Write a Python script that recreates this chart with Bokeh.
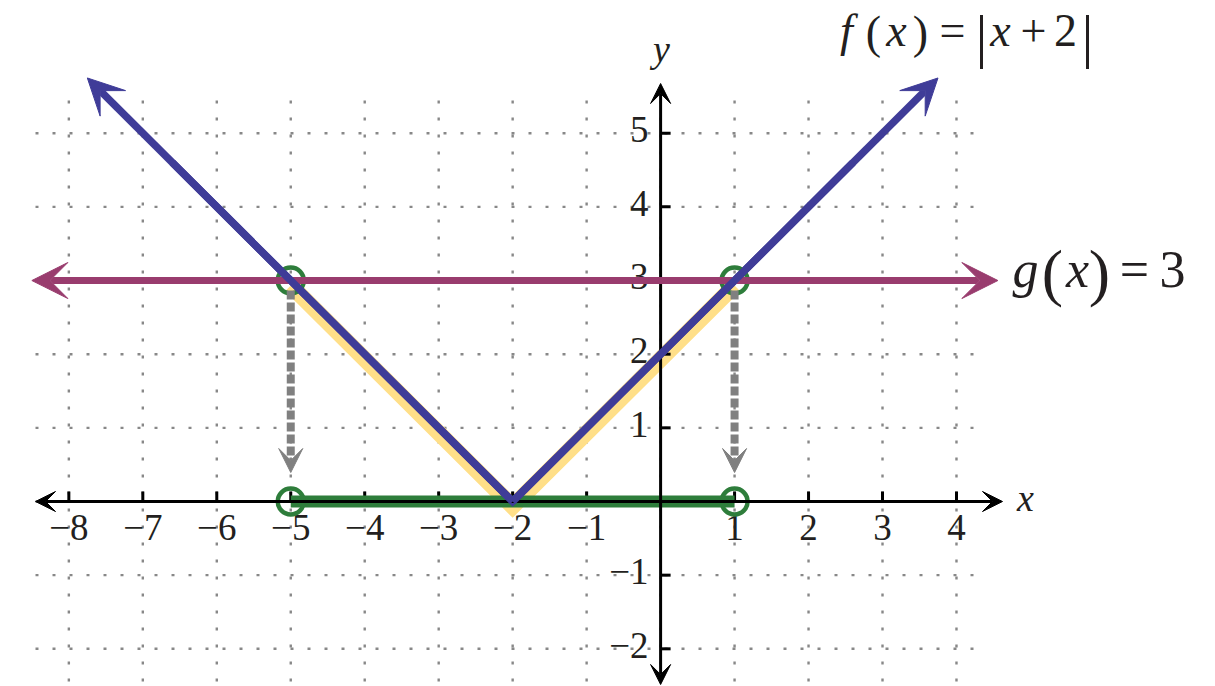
from bokeh.plotting import figure
from bokeh.models import Range1d, Arrow, VeeHead, ColumnDataSource
from bokeh.core.properties import value
from bokeh.embed import file_html
from bokeh.resources import INLINE

# ---------------- data ----------------
grid_x = [-8, -7, -6, -5, -4, -3, -2, -1, 0, 1, 2, 3, 4]
grid_y = [-2, -1, 0, 1, 2, 3, 4, 5]
x_ticks = [-8, -7, -6, -5, -4, -3, -2, -1, 1, 2, 3, 4]
x_tick_labels = ["\u22128", "\u22127", "\u22126", "\u22125", "\u22124", "\u22123",
                 "\u22122", "\u22121", "1", "2", "3", "4"]
y_ticks = [-2, -1, 1, 2, 3, 4, 5]
y_tick_labels = ["\u22122", "\u22121", "1", "2", "3", "4", "5"]

f_x = [-7.75, -2, 3.75]          # f(x) = |x + 2|
f_y = [5.75, 0, 5.75]
g_x = [-8.5, 4.56]               # g(x) = 3
g_y = [3, 3]
sol_x = [-5, 1]                  # intersection abscissas
sol_y = [3, 3]
hl_x = [-5, -2, 1]               # highlighted part of f
hl_y = [3, 0, 3]
interval_x = [-5, 1]             # solution interval on x axis

# ---------------- geometry ----------------
W, H = 1215, 686
X0 = -660.1 / 73.97
X1 = X0 + W / 73.97
Y1 = 501 / 73.66
Y0 = Y1 - H / 73.66
BASE_FIX = 0.4   # baseline correction (in em) for svg text


def dx(px):
    return X0 + px / W * (X1 - X0)


def dy(py):
    return Y1 - py / H * (Y1 - Y0)


BLUE = "#3F3C98"
PURPLE = "#993C6E"
GREEN = "#2E7D3B"
GRAY = "#808080"
YELLOW = "#FFDF88"
INK = "#231F20"
SERIF = value("Liberation Serif")

p = figure(width=W, height=H, x_range=Range1d(X0, X1), y_range=Range1d(Y0, Y1),
           toolbar_location=None, output_backend="svg", min_border=0,
           x_axis_type=None, y_axis_type=None, outline_line_color=None)
p.grid.visible = False
p.background_fill_color = "white"
p.border_fill_color = "white"

# dotted grid
gx_top, gx_bot = dy(100), dy(700)
gy_left, gy_right = dx(35), dx(987)
p.segment(x0=grid_x, y0=[gx_top] * len(grid_x), x1=grid_x, y1=[gx_bot] * len(grid_x),
          line_color="#888888", line_width=2.4, line_dash="3 14")
p.segment(x0=[gy_left] * len(grid_y), y0=grid_y, x1=[gy_right] * len(grid_y), y1=grid_y,
          line_color="#888888", line_width=2.4, line_dash="3 14")

# tick labels
TICK_FS = 37
p.text(x=x_ticks, y=[0] * len(x_ticks), text=x_tick_labels, text_font=SERIF,
       text_font_size=f"{TICK_FS}px", text_align="center", text_baseline="alphabetic",
       y_offset=41 - BASE_FIX * TICK_FS, text_color=INK)
p.text(x=[0] * len(y_ticks), y=y_ticks, text=y_tick_labels, text_font=SERIF,
       text_font_size=f"{TICK_FS}px", text_align="right", text_baseline="alphabetic",
       x_offset=-12, y_offset=11 - BASE_FIX * TICK_FS, text_color=INK)

# yellow highlight (slightly below the graph of f)
shift = 5 / 73.66
p.line(x=hl_x, y=[v - shift for v in hl_y], line_color=YELLOW, line_width=16,
       line_join="miter")

# axes
tick_up = 10 / 73.66
tick_right = 10 / 73.97
p.segment(x0=x_ticks, y0=[0] * len(x_ticks), x1=x_ticks, y1=[tick_up] * len(x_ticks),
          line_color="black", line_width=3)
p.segment(x0=[0] * len(y_ticks), y0=y_ticks, x1=[tick_right] * len(y_ticks), y1=y_ticks,
          line_color="black", line_width=3)
axes_src = ColumnDataSource(dict(x0=[dx(35), 0], y0=[0, dy(684)],
                                 x1=[dx(1002), 0], y1=[0, dy(83)]))
p.add_layout(Arrow(source=axes_src, x_start="x0", y_start="y0", x_end="x1", y_end="y1",
                   line_color="black", line_width=3,
                   start=VeeHead(size=20, fill_color="black", line_color="black", line_width=1),
                   end=VeeHead(size=20, fill_color="black", line_color="black", line_width=1)))

# gray dashed projection arrows
proj_src = ColumnDataSource(dict(x0=sol_x, y0=[dy(290)] * 2, x1=sol_x, y1=[dy(472)] * 2))
p.add_layout(Arrow(source=proj_src, x_start="x0", y_start="y0", x_end="x1", y_end="y1",
                   line_color=GRAY, line_width=8, line_dash="9 3",
                   end=VeeHead(size=24, fill_color=GRAY, line_color=GRAY, line_width=1)))

# solution interval on x axis
p.segment(x0=[interval_x[0]], y0=[0], x1=[interval_x[1]], y1=[0],
          line_color=GREEN, line_width=12)

# g(x) = 3
g_src = ColumnDataSource(dict(x0=[g_x[0]], y0=[g_y[0]], x1=[g_x[1]], y1=[g_y[1]]))
p.add_layout(Arrow(source=g_src, x_start="x0", y_start="y0", x_end="x1", y_end="y1",
                   line_color=PURPLE, line_width=7,
                   start=VeeHead(size=36, fill_color=PURPLE, line_color=PURPLE, line_width=1),
                   end=VeeHead(size=36, fill_color=PURPLE, line_color=PURPLE, line_width=1)))

# f(x) = |x + 2|
vx = [f_x[1] + 0.8 * (f_x[0] - f_x[1]), f_x[1], f_x[1] + 0.8 * (f_x[2] - f_x[1])]
vy = [f_y[1] + 0.8 * (f_y[0] - f_y[1]), f_y[1], f_y[1] + 0.8 * (f_y[2] - f_y[1])]
p.line(x=vx, y=vy, line_color=BLUE, line_width=7.5, line_join="miter")
f_src = ColumnDataSource(dict(x0=[f_x[1], f_x[1]], y0=[f_y[1], f_y[1]],
                              x1=[f_x[0], f_x[2]], y1=[f_y[0], f_y[2]]))
p.add_layout(Arrow(source=f_src, x_start="x0", y_start="y0", x_end="x1", y_end="y1",
                   line_color=BLUE, line_width=7.5,
                   end=VeeHead(size=36, fill_color=BLUE, line_color=BLUE, line_width=1)))

# open circles
p.scatter(x=sol_x + sol_x, y=sol_y + [0, 0], marker="circle", size=26,
          fill_color=None, line_color=GREEN, line_width=4.5)


# texts (px, py: centre x and baseline y in page pixels)
def put(txt, px, py, size, italic=False):
    p.text(x=[dx(px)], y=[dy(py - BASE_FIX * size)], text=[txt], text_font=SERIF,
           text_font_size=f"{size}px", text_font_style="italic" if italic else "normal",
           text_align="center", text_baseline="alphabetic", text_color=INK)


put("x", 1025, 513, 38, italic=True)
put("y", 661, 64, 38, italic=True)

# f(x) = |x + 2|
put("f", 846, 48, 46, italic=True)
put("(", 873, 50, 46)
put("x", 896, 48, 46, italic=True)
put(")", 920, 50, 46)
put("=", 952, 48, 46)
put("|", 981, 59, 60)
put("x", 1000, 48, 46, italic=True)
put("+", 1033, 48, 46)
put("2", 1065, 48, 46)
put("|", 1087, 59, 60)

# g(x) = 3
put("g", 1025, 290, 52, italic=True)
put("(", 1052, 298, 64)
put("x", 1077, 290, 52, italic=True)
put(")", 1099, 298, 64)
put("=", 1134, 290, 52)
put("3", 1172, 290, 52)

open("out.html", "w").write(file_html(p, INLINE))
